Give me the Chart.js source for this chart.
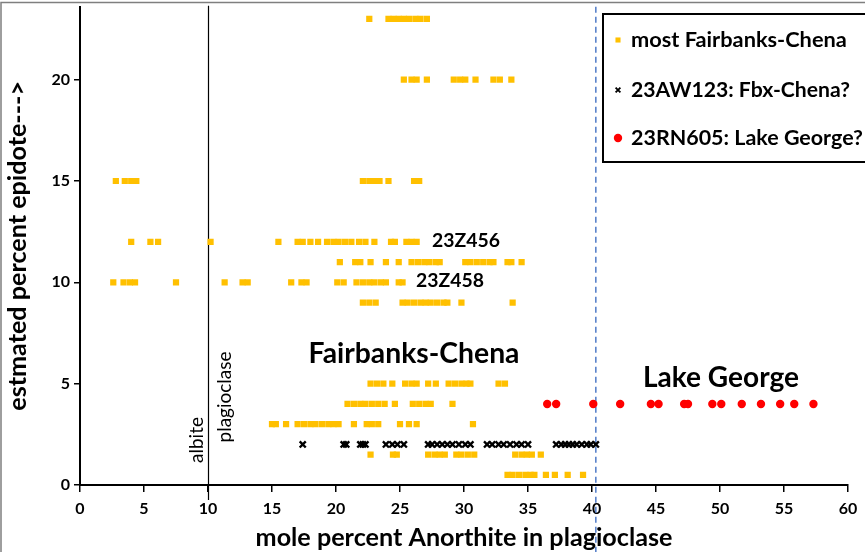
<!DOCTYPE html>
<html><head><meta charset="utf-8">
<script src="https://cdn.jsdelivr.net/npm/chart.js@4/dist/chart.umd.min.js"></script>
<style>html,body{margin:0;padding:0;background:#fff;}canvas{display:block}</style>
</head><body>
<canvas id="c" width="865" height="552"></canvas>
<script>
// ---- data (x = mole % anorthite, grouped by estimated % epidote) ----
const xTickValues = [0,5,10,15,20,25,30,35,40,45,50,55,60];
const yTickValues = [0,5,10,15,20];
const fcAt23  = [22.6,24.1,24.5,24.9,25.3,25.7,26.2,26.6,27.1];
const fcAt20  = [25.3,25.9,26.3,27.1,29.2,29.7,30.1,30.9,32.3,32.8,33.7];
const fcAt15  = [2.8,3.5,4.0,4.4,22.1,22.6,23.0,23.4,24.1,26.1,26.5];
const fcAt12  = [4.0,5.5,6.1,10.2,15.5,17.0,17.4,18.0,18.6,19.3,19.8,20.2,20.7,21.2,21.8,22.3,23.0,24.3,24.6,25.5,25.9,26.3];
const fcAt11  = [20.3,21.5,21.9,22.7,23.9,24.9,25.9,26.4,26.9,27.3,27.8,28.1,30.1,30.5,31.0,31.5,32.0,32.3,33.4,33.7,34.5];
const fcAt10  = [2.6,3.4,3.9,4.3,7.5,11.3,12.7,13.1,16.5,17.3,17.7,20.1,20.6,21.6,22.1,22.6,23.0,23.5,23.9,24.9,25.2];
const fcAt9   = [22.1,22.6,23.1,25.2,25.6,26.1,26.6,27.0,27.4,27.9,28.4,28.7,29.8,33.8];
const fcAt5   = [22.7,23.2,23.7,24.4,25.4,25.9,26.3,27.2,27.8,28.8,29.3,29.8,30.2,30.5,32.7,33.2];
const fcAt4   = [20.9,21.4,21.9,22.3,22.8,23.3,23.8,24.6,26.0,26.5,27.0,27.4,29.1];
const fcAt3   = [15.0,15.3,16.1,17.0,17.5,18.0,18.4,18.9,19.4,19.8,20.2,21.4,22.4,22.8,23.3,25.0,25.7,26.3,30.7];
const fcAt1_5 = [22.7,24.45,24.75,27.2,27.7,28.1,28.5,29.4,29.8,30.3,30.8,34.0,34.5,34.9,35.3,36.0];
const fcAt0_5 = [33.4,33.8,34.3,34.8,35.2,35.5,36.4,37.1,38.1,39.3];
const aw123At2 = [17.4,20.6,20.8,21.9,22.1,22.3,23.9,24.4,24.8,25.3,27.2,27.5,27.9,28.3,28.7,29.1,29.6,30.1,30.5,31.8,32.2,32.7,33.1,33.6,34.1,34.5,35.0,37.2,37.6,37.9,38.2,38.5,38.8,39.2,39.6,39.9,40.3];
const rn605At4 = [36.5,37.2,40.1,42.2,44.6,45.2,47.2,47.5,49.4,50.1,51.7,53.2,54.7,55.8,57.3];
const albiteBoundary = 10;
const lakeGeorgeBoundary = 40.3;
const seriesNames = ['most Fairbanks-Chena','23AW123: Fbx-Chena?','23RN605: Lake George?'];

const fcRows = [[23,fcAt23],[20,fcAt20],[15,fcAt15],[12,fcAt12],[11,fcAt11],[10,fcAt10],[9,fcAt9],[5,fcAt5],[4,fcAt4],[3,fcAt3],[1.5,fcAt1_5],[0.5,fcAt0_5]];
const fcData = [];
fcRows.forEach(([y,xs]) => xs.forEach(x => fcData.push({x, y})));
const awData = aw123At2.map(x => ({x, y:2}));
const rnData = rn605At4.map(x => ({x, y:4}));

// ---- styles ----
const FONT = 'Lato, "Open Sans", sans-serif';
const mctx = document.createElement('canvas').getContext('2d');
function fitSize(text, weight, width){ mctx.font = `${weight} 100px ${FONT}`; return 100*width/mctx.measureText(text).width; }
const xTitle = 'mole percent Anorthite in plagioclase';
const yTitle = 'estmated percent epidote--->';
const xTitleSize = fitSize(xTitle,'bold',417);
const yTitleSize = fitSize(yTitle,'bold',330);

const colors = ['#FFC000','#000000','#FF0000'];
const styles = ['rect','crossRot','circle'];
const radii = [4.4, 4.3, 4.2];
const borderWidths = [0, 2.4, 0];

function drawFit(ctx, text, x, y, width, weight, align, rot){
  const s = fitSize(text, weight, width);
  ctx.save();
  ctx.translate(x, y);
  if (rot) ctx.rotate(rot);
  ctx.font = `${weight} ${s}px ${FONT}`;
  ctx.fillStyle = '#000';
  ctx.textAlign = align;
  ctx.textBaseline = 'middle';
  ctx.fillText(text, 0, 0);
  ctx.restore();
}

const decor = {
  id:'decor',
  beforeDatasetsDraw(chart){
    const {ctx, chartArea:a, scales:{x}} = chart;
    ctx.save();
    ctx.strokeStyle = '#7f7f7f'; ctx.lineWidth = 1.5;
    ctx.beginPath(); ctx.moveTo(1, 552); ctx.lineTo(1, 2.5); ctx.lineTo(865, 2.5); ctx.stroke();
    const xa = Math.round(x.getPixelForValue(albiteBoundary)) + 0.5;
    ctx.strokeStyle = '#000'; ctx.lineWidth = 1.2;
    ctx.beginPath(); ctx.moveTo(xa, a.top - 1); ctx.lineTo(xa, a.bottom + 15); ctx.stroke();
    const xl = x.getPixelForValue(lakeGeorgeBoundary);
    ctx.strokeStyle = '#4472C4'; ctx.lineWidth = 1.4; ctx.setLineDash([6,4]);
    ctx.beginPath(); ctx.moveTo(xl, a.top); ctx.lineTo(xl, 552); ctx.stroke();
    ctx.restore();
  },
  afterDraw(chart){
    const ctx = chart.ctx;
    drawFit(ctx,'23Z456',466,241,68,'bold','center');
    drawFit(ctx,'23Z458',450,281,68,'bold','center');
    drawFit(ctx,'Fairbanks-Chena',414,354,211,'bold','center');
    drawFit(ctx,'Lake George',721,378,156,'bold','center');
    drawFit(ctx,'albite',197,440,46,'normal','center',-Math.PI/2);
    drawFit(ctx,'plagioclase',225,397,91,'normal','center',-Math.PI/2);
    ctx.save();
    ctx.fillStyle = '#fff'; ctx.fillRect(603,14,270,148);
    ctx.strokeStyle = '#000'; ctx.lineWidth = 2;
    ctx.strokeRect(603,14,270,148);
    ctx.restore();
    const ly = [40, 90, 138];
    const lw = [216, 219, 232];
    seriesNames.forEach((n,i) => {
      ctx.save();
      ctx.fillStyle = colors[i]; ctx.strokeStyle = colors[i]; ctx.lineWidth = i===1 ? 1.8 : borderWidths[i];
      Chart.helpers.drawPoint(ctx, {pointStyle:styles[i], radius: i===0?3.6:(i===1?3.4:radii[i]), borderWidth:i===1?1.8:borderWidths[i], rotation:0}, 618, ly[i]);
      ctx.restore();
      drawFit(ctx, n, 631, ly[i], lw[i], 'bold', 'left');
    });
  }
};

new Chart(document.getElementById('c'), {
  type:'scatter',
  data:{ datasets: [fcData, awData, rnData].map((d,i) => ({
    label:seriesNames[i], data:d, pointStyle:styles[i], pointRadius:radii[i],
    backgroundColor:colors[i], borderColor:colors[i], borderWidth:borderWidths[i]
  }))},
  options:{
    responsive:false, animation:false, events:[],
    layout:{padding:{top:4,right:17,left:0,bottom:0}},
    plugins:{legend:{display:false}, tooltip:{enabled:false}},
    scales:{
      x:{ type:'linear', min:0, max:60,
        afterBuildTicks(s){ s.ticks = xTickValues.map(v => ({value:v})); },
        afterFit(s){ s.height = 67; },
        grid:{display:true, drawOnChartArea:false, drawTicks:true, tickLength:7, color:'#000', lineWidth:1.5},
        border:{display:true, color:'#000', width:2},
        ticks:{color:'#000', padding:7, font:{family:FONT, size:16, weight:'bold'}, maxRotation:0, autoSkip:false},
        title:{display:true, text:xTitle, color:'#000', font:{family:FONT, size:xTitleSize, weight:'bold'}, padding:{top:0,bottom:14 - xTitleSize*0.6}}
      },
      y:{ type:'linear', min:0, max:23.6,
        afterBuildTicks(s){ s.ticks = yTickValues.map(v => ({value:v})); },
        afterFit(s){ s.width = 80; s.paddingTop = 0; s.paddingBottom = 0; },
        grid:{display:true, drawOnChartArea:false, drawTicks:true, tickLength:6, color:'#000', lineWidth:1.5},
        border:{display:true, color:'#000', width:2},
        ticks:{color:'#000', padding:4, font:{family:FONT, size:16, weight:'bold'}},
        title:{display:true, text:yTitle, color:'#000', font:{family:FONT, size:yTitleSize, weight:'bold'}, padding:{top:18 - yTitleSize*0.6, bottom:0}}
      }
    }
  },
  plugins:[decor]
});
</script>
</body></html>
